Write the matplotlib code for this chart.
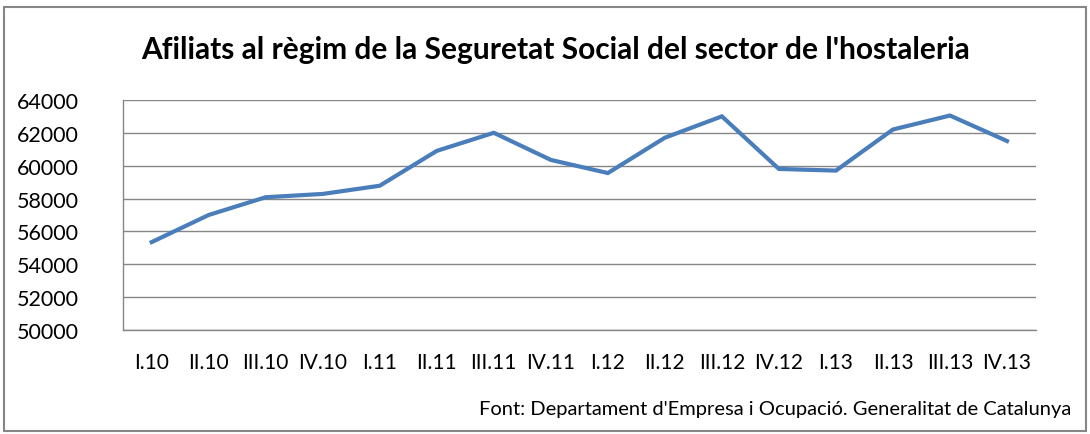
import matplotlib
matplotlib.use("Agg")
import matplotlib.pyplot as plt
from matplotlib.patches import Rectangle

plt.rcParams["font.family"] = ["Lato", "DejaVu Sans"]

quarters = ["I.10", "II.10", "III.10", "IV.10", "I.11", "II.11", "III.11", "IV.11",
            "I.12", "II.12", "III.12", "IV.12", "I.13", "II.13", "III.13", "IV.13"]
afiliats = [55350, 57000, 58080, 58280, 58780, 60900, 62000, 60350,
            59550, 61700, 63000, 59800, 59700, 62200, 63050, 61500]
y_ticks = list(range(50000, 64001, 2000))

fig = plt.figure(figsize=(10.9, 4.35), dpi=100)
fig.patch.set_facecolor("white")
ax = fig.add_axes([0.113, 0.239, 0.837, 0.529])

x = range(len(quarters))
ax.plot(x, afiliats, color="#4A7EBB", lw=3, solid_joinstyle="miter")

ax.set_xlim(-0.5, len(quarters) - 0.5)
ax.set_ylim(50000, 64000)
ax.set_yticks(y_ticks)
ax.set_yticklabels([str(v) for v in y_ticks], fontsize=15.5)
ax.set_xticks(list(x))
ax.set_xticklabels(quarters, fontsize=15)
ax.tick_params(length=0)
ax.tick_params(axis="y", pad=32)
ax.tick_params(axis="x", pad=16)

ax.grid(axis="y", color="#868686", lw=1)
ax.set_axisbelow(True)
for s in ["top", "right"]:
    ax.spines[s].set_visible(False)
for s in ["left", "bottom"]:
    ax.spines[s].set_color("#868686")
    ax.spines[s].set_linewidth(1)

fig.text(0.51, 0.885, "Afiliats al règim de la Seguretat Social del sector de l'hostaleria",
         ha="center", va="center", fontsize=21.5, fontweight="bold")
fig.text(0.983, 0.058, "Font: Departament d'Empresa i Ocupació. Generalitat de Catalunya",
         ha="right", va="center", fontsize=14.5)

fig.patches.append(Rectangle((0.004, 0.006), 0.992, 0.975, transform=fig.transFigure,
                             fill=False, edgecolor="#868686", lw=1.5))

fig.savefig("out.png", dpi=100, facecolor="white")
